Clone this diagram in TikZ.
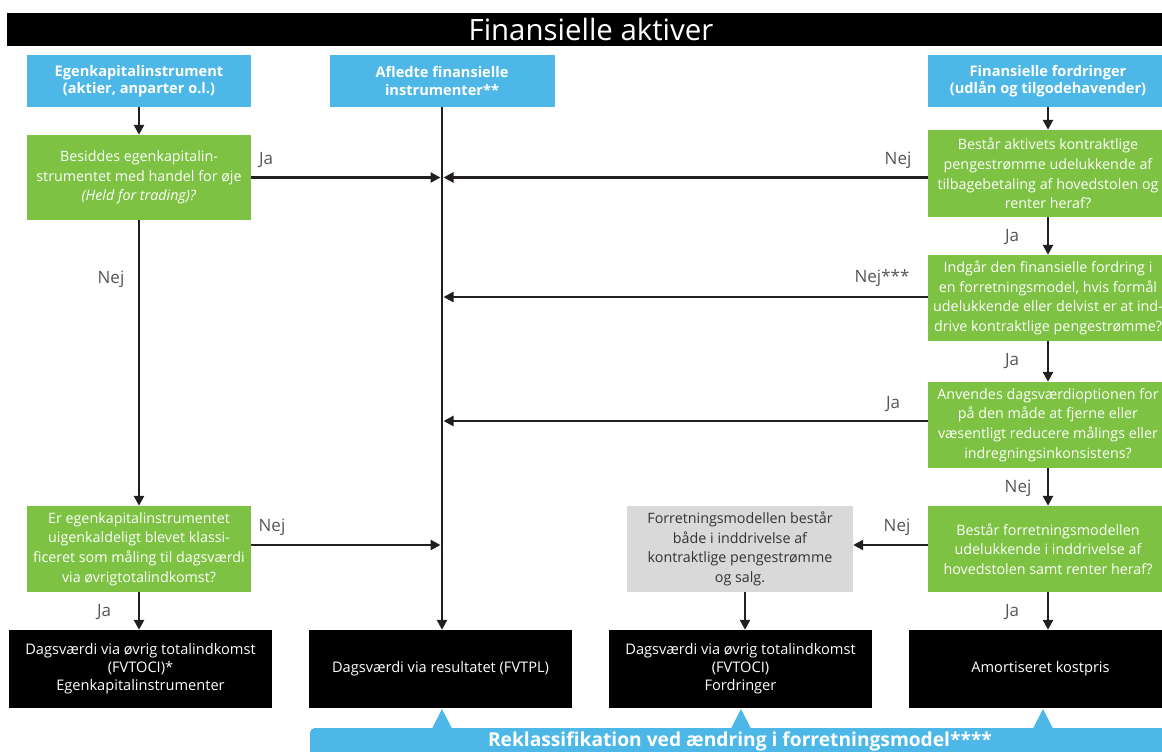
\documentclass[tikz,border=0pt]{standalone}
\usepackage{fontspec}
\setmainfont{Open Sans}
\usetikzlibrary{arrows.meta}
\definecolor{hdrblue}{HTML}{4DB8E8}
\definecolor{qgreen}{HTML}{7DC242}
\definecolor{optgray}{HTML}{D9D9D9}
\definecolor{optgraytext}{HTML}{333333}
\definecolor{linedark}{HTML}{231F20}
\definecolor{lblgray}{HTML}{555555}
\begin{document}
\begin{tikzpicture}[x=1pt,y=-1pt,
  box/.style={rectangle, inner sep=0pt, align=center, font=\fontsize{14.3}{19.6}\selectfont},
  hdr/.style={box, fill=hdrblue, text=white, font=\fontsize{14.6}{17.5}\selectfont\bfseries},
  ques/.style={box, fill=qgreen, text=white},
  opt/.style={box, fill=optgray, text=optgraytext},
  result/.style={box, fill=black, text=white, font=\fontsize{14.6}{18}\selectfont,
                 minimum height=78pt, minimum width=263pt},
  flow/.style={line width=2.9pt, draw=linedark, -{Triangle[length=10pt,width=10pt]}},
  lbl/.style={font=\fontsize{17}{20}\selectfont, text=lblgray, inner sep=0pt},
  wl/.style={minimum width=224pt},
  wr/.style={minimum width=240pt},
]
\useasboundingbox (0,0) rectangle (1162,752);
\clip (0,0) rectangle (1162,752);

% title bar
\node[fill=black, text=white, minimum width=1168pt, minimum height=33pt, inner sep=0pt,
      font=\fontsize{29.4}{32}\selectfont] (title) at (591,29.5) {Finansielle aktiver};

% entry headers
\node[hdr, wl, minimum height=52pt] (eq)  at (139,81) {Egenkapitalinstrument\\(aktier, anparter o.l.)};
\node[hdr, minimum width=225pt, minimum height=52pt] (der) at (442,81) {Afledte finansielle\\instrumenter**};
\node[hdr, wr, minimum height=52pt] (fin) at (1048,81) {Finansielle fordringer\\(udlån og tilgodehavender)};

% equity questions
\node[ques, wl, minimum height=85pt] (q1) at (139,177.5)
  {Besiddes egenkapitalin-\\strumentet med handel for øje\\\textit{(Held for trading)?}};
\node[ques, wl, minimum height=86pt] (q2) at (139,549)
  {Er egenkapitalinstrumentet\\uigenkaldeligt blevet klassi-\\ficeret som måling til dagsværdi\\via øvrigtotalindkomst?};

% receivables questions
\node[ques, wr, minimum height=87pt] (r1) at (1048,173.5)
  {Består aktivets kontraktlige\\pengestrømme udelukkende af\\tilbagebetaling af hovedstolen og\\renter heraf?};
\node[ques, wr, minimum height=86pt] (r2) at (1048,298)
  {Indgår den finansielle fordring i\\en forretningsmodel, hvis formål\\udelukkende eller delvist er at ind-\\drive kontraktlige pengestrømme?};
\node[ques, wr, minimum height=86pt] (r3) at (1048,425)
  {Anvendes dagsværdioptionen for\\på den måde at fjerne eller\\væsentligt reducere målings eller\\indregningsinkonsistens?};
\node[ques, wr, minimum height=86pt] (r4) at (1048,549)
  {Består forretningsmodellen\\udelukkende i inddrivelse af\\hovedstolen samt renter heraf?};
\node[opt, minimum width=226pt, minimum height=86pt] (mix) at (740,549)
  {Forretningsmodellen består\\både i inddrivelse af\\kontraktlige pengestrømme\\og salg.};

% measurement outcomes
\node[result] (b1) at (140.5,669)
  {Dagsværdi via øvrig totalindkomst\\(FVTOCI)*\\Egenkapitalinstrumenter};
\node[result] (b2) at (440.5,669) {Dagsværdi via resultatet (FVTPL)};
\node[result] (b3) at (740.5,669)
  {Dagsværdi via øvrig totalindkomst\\(FVTOCI)\\Fordringer};
\node[result] (b4) at (1040.5,669) {Amortiseret kostpris};

% reclassification banner with pointers
\node[fill=hdrblue, rounded corners=4pt, minimum width=870pt, minimum height=32pt,
      inner sep=0pt, anchor=north west] (reclass) at (310,728) {};
\node[text=white, inner sep=0pt, font=\fontsize{19.2}{22}\selectfont\bfseries] (reclasstxt) at (740,741)
  {Reklassifikation ved ændring i forretningsmodel****};
\foreach \px in {442, 741, 1043}{
  \fill[hdrblue] (\px-10,728.5) -- (\px,709) -- (\px+10,728.5) -- cycle;
}

% connectors: equity column
\draw[flow] (eq.south) -- (q1.north);
\draw[flow] (q1.south) -- (q2.north);
\draw[flow] (q2.south) -- (q2.south |- b1.north);

% derivatives trunk
\draw[flow] (der.south) -- (der.south |- b2.north);

% branches into the trunk
\draw[flow, shorten >=1.5pt] (q1.east) -- (q1.east -| der.south);
\draw[flow, shorten >=1.5pt] (r1.west |- q1.east) -- (q1.east -| der.south);
\draw[flow, shorten >=1.5pt] ([yshift=1pt]r2.west) -- ([yshift=1pt]r2.west -| der.south);
\draw[flow, shorten >=1.5pt] ([yshift=4pt]r3.west) -- ([yshift=4pt]r3.west -| der.south);
\draw[flow, shorten >=1.5pt] ([yshift=4pt]q2.east) -- ([yshift=4pt]q2.east -| der.south);

% receivables column
\draw[flow] (fin.south) -- (r1.north);
\draw[flow] (r1.south) -- (r2.north);
\draw[flow] (r2.south) -- (r3.north);
\draw[flow] (r3.south) -- (r4.north);
\draw[flow] (r4.south) -- (b4.north -| r4.south);
\draw[flow] ([yshift=4pt]r4.west) -- ([yshift=4pt]mix.east);
\draw[flow] ([xshift=5pt]mix.south) -- ([xshift=5pt]mix.south |- b3.north);

% decision labels
\node[lbl] (l1)  at (266,160) {Ja};
\node[lbl] (l2)  at (898,160) {Nej};
\node[lbl] (l3)  at (1012,237) {Ja};
\node[lbl] (l4)  at (882,278) {Nej***};
\node[lbl] (l5)  at (1012,361) {Ja};
\node[lbl] (l6)  at (893,404) {Ja};
\node[lbl] (l7)  at (1018,488) {Nej};
\node[lbl] (l8)  at (897,527) {Nej};
\node[lbl] (l9)  at (272,527) {Nej};
\node[lbl] (l10) at (111,279) {Nej};
\node[lbl] (l11) at (104,612) {Ja};
\node[lbl] (l12) at (1012,612) {Ja};
\end{tikzpicture}
\end{document}
